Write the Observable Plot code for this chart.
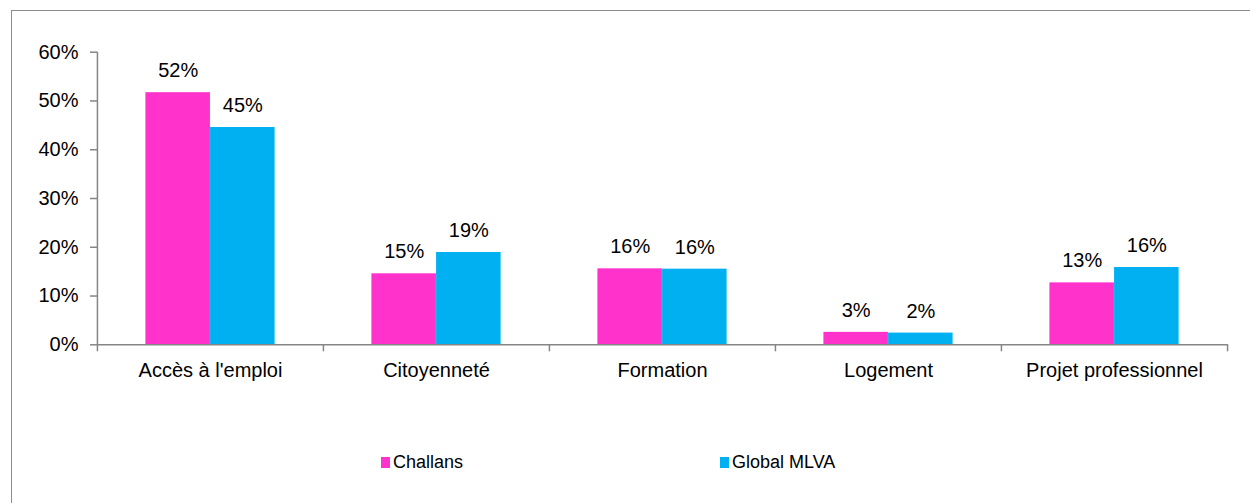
<!DOCTYPE html>
<html>
<head>
<meta charset="utf-8">
<script src="https://cdn.jsdelivr.net/npm/d3@7"></script>
<script src="https://cdn.jsdelivr.net/npm/@observablehq/plot@0.6"></script>
<style>
  html, body { margin: 0; padding: 0; background: #fff; overflow: hidden; }
  #wrap { position: relative; width: 1250px; height: 503px; font-family: "Liberation Sans", Arial, sans-serif; }
  #frame { position: absolute; left: 11px; top: 10px; width: 1260px; height: 520px; border-left: 1px solid #8c8c8c; border-top: 1px solid #8c8c8c; box-sizing: border-box; }
  #chart { position: absolute; left: 0; top: 0; }
  #legend { position: absolute; left: 0; top: 400px; width: 1250px; height: 103px; }
  .item { position: absolute; top: 48px; font-size: 18px; color: #000; line-height: 20px; white-space: nowrap; }
  .sw { position: absolute; left: 0; top: 9px; width: 9px; height: 11px; }
  .lab { position: absolute; left: 12px; top: 4px; }
</style>
</head>
<body>
<div id="wrap">
  <div id="frame"></div>
  <div id="chart"></div>
  <div id="legend"></div>
</div>
<script>
const categories = ["Accès à l'emploi", "Citoyenneté", "Formation", "Logement", "Projet professionnel"];
const seriesNames = ["Challans", "Global MLVA"];
const challans = [0.517, 0.1456, 0.1558, 0.0255, 0.127];
const globalMLVA = [0.4456, 0.1893, 0.1551, 0.024, 0.1585];
const yTicks = [0, 0.1, 0.2, 0.3, 0.4, 0.5, 0.6];
const colors = ["#ff33cc", "#00b0f0"];

const data = [];
categories.forEach((c, i) => {
  data.push({category: c, series: seriesNames[0], value: challans[i]});
  data.push({category: c, series: seriesNames[1], value: globalMLVA[i]});
});

const W = 1250, H = 400;
const ml = 97, mr = 22.3, mt = 51.7, mb = H - 344.3;
const bw = (W - ml - mr) / categories.length;   // band width
const gap = bw * 0.214;                          // outer gap each side of group
const barW = (bw - 2 * gap) / 2;
const off = barW / 2;                            // bar center offset from band center
const tickLen = 7 * 0.6 / (H - mt - mb);         // 7px in data units

const pct = d3.format(".0%");
const font = 20;

const chart = Plot.plot({
  width: W,
  height: H,
  marginLeft: ml,
  marginRight: mr,
  marginTop: mt,
  marginBottom: mb,
  style: {fontFamily: "'Liberation Sans', Arial, sans-serif", fontSize: font + "px", color: "#000", background: "transparent"},
  x: {domain: categories, padding: 0, axis: null, label: null},
  y: {domain: [0, 0.6], axis: null, label: null},
  color: {domain: seriesNames, range: colors},
  marks: [
    // y axis ticks (gray) and labels (black)
    Plot.axisY({ticks: yTicks, tickSize: 7, stroke: "#868686", fill: "none", text: null, label: null, strokeWidth: 1.5}),
    Plot.axisY({ticks: yTicks, tickSize: 0, tickPadding: 19, tickFormat: pct, fontSize: font, label: null}),
    // bars
    Plot.barY(data.filter(d => d.series === seriesNames[0]), {x: "category", y: "value", fill: "series", insetLeft: gap, insetRight: bw - gap - barW}),
    Plot.barY(data.filter(d => d.series === seriesNames[1]), {x: "category", y: "value", fill: "series", insetLeft: gap + barW, insetRight: gap}),
    // x axis line
    Plot.ruleY([0], {stroke: "#868686", strokeWidth: 1.5}),
    // y axis line
    Plot.ruleX([categories[0]], {x: d => d, y1: -tickLen, y2: 0.6, dx: -bw / 2, stroke: "#868686", strokeWidth: 1.5}),
    // category boundary ticks
    Plot.ruleX(categories.slice(1), {x: d => d, y1: -tickLen, y2: 0, dx: -bw / 2, stroke: "#868686", strokeWidth: 1.5}),
    Plot.ruleX([categories[categories.length - 1]], {x: d => d, y1: -tickLen, y2: 0, dx: bw / 2, stroke: "#868686", strokeWidth: 1.5}),
    // x labels
    Plot.axisX({tickSize: 0, tickPadding: 17.5, fontSize: font, label: null}),
    // value labels
    Plot.text(data.filter(d => d.series === seriesNames[0]), {x: "category", y: "value", text: d => pct(d.value), dx: -off, dy: -21.8, fontSize: font, fill: "#000"}),
    Plot.text(data.filter(d => d.series === seriesNames[1]), {x: "category", y: "value", text: d => pct(d.value), dx: off, dy: -21.8, fontSize: font, fill: "#000"})
  ]
});
document.getElementById("chart").appendChild(chart);

// legend
const legend = document.getElementById("legend");
const legendX = [381, 720];
seriesNames.forEach((s, i) => {
  const item = document.createElement("div");
  item.className = "item";
  item.style.left = legendX[i] + "px";
  const sw = document.createElement("div");
  sw.className = "sw";
  sw.style.background = colors[i];
  const lab = document.createElement("span");
  lab.className = "lab";
  lab.textContent = s;
  item.appendChild(sw);
  item.appendChild(lab);
  legend.appendChild(item);
});
</script>
</body>
</html>
